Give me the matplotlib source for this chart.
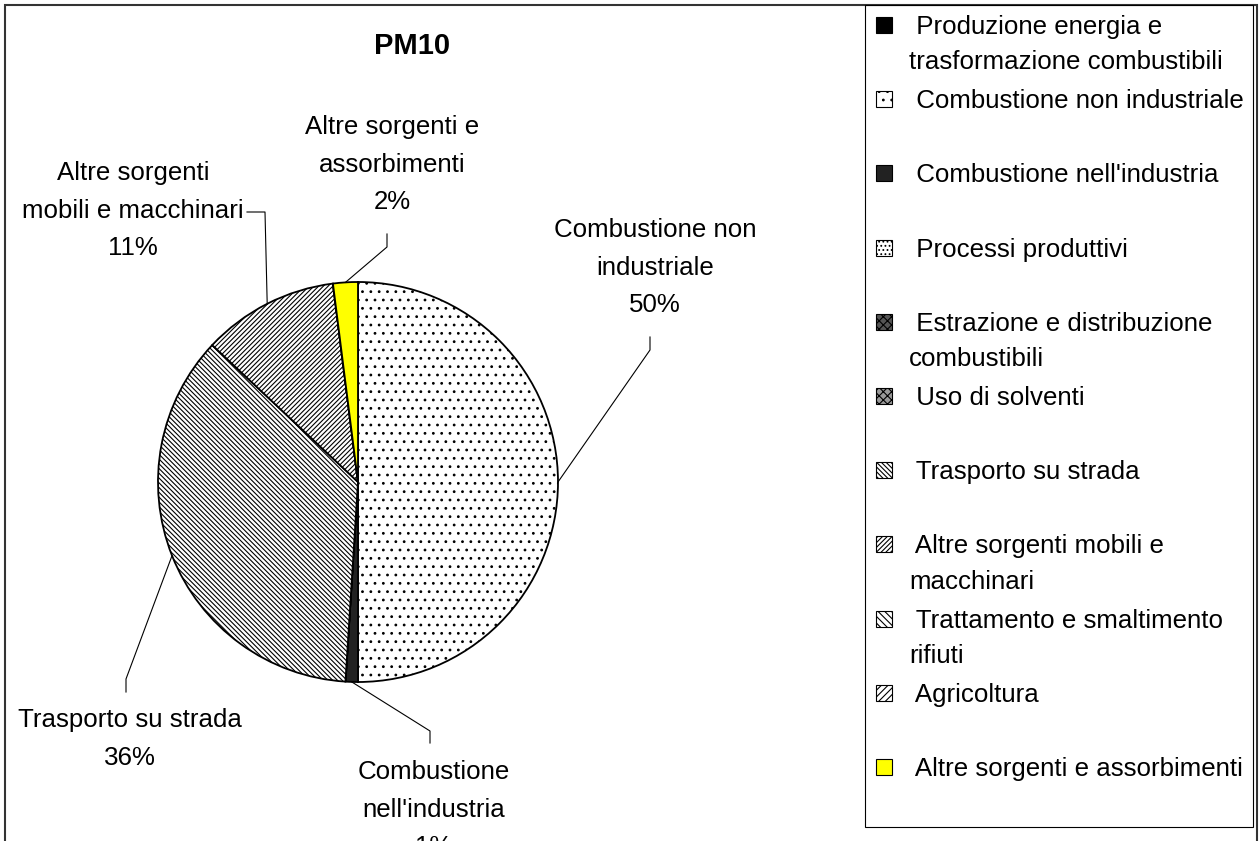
import numpy as np
import matplotlib.pyplot as plt
from matplotlib.patches import Rectangle

plt.rcParams['font.family'] = ['Liberation Sans', 'DejaVu Sans']
plt.rcParams['hatch.linewidth'] = 0.8

W, H = 1260, 841

# PM10 emission sources, share in percent
sources = ['Produzione energia e\ntrasformazione combustibili',
           'Combustione non industriale',
           "Combustione nell'industria",
           'Processi produttivi',
           'Estrazione e distribuzione\ncombustibili',
           'Uso di solventi',
           'Trasporto su strada',
           'Altre sorgenti mobili e\nmacchinari',
           'Trattamento e smaltimento\nrifiuti',
           'Agricoltura',
           'Altre sorgenti e assorbimenti']
shares = [0, 50, 1, 0, 0, 0, 36, 11, 0, 0, 2]

# text of the labels next to the pie (only non-zero slices)
slice_names = {1: 'Combustione non\nindustriale',
               2: "Combustione\nnell'industria",
               6: 'Trasporto su strada',
               7: 'Altre sorgenti\nmobili e macchinari',
               10: 'Altre sorgenti e\nassorbimenti'}

# fills, one per source
faces = ['black', 'white', '#222222', 'white', '#555555', '#999999',
         'white', 'white', 'white', 'white', '#FFFF00']
hatches = [None, '..', None, '....', 'xxxx', 'xxxx',
           '\\' * 7, '/' * 7, '\\' * 5, '/' * 5, None]

# label layout in image pixels: first line centre, leader elbow, leader end
label_pos = {1: ((655, 228), (650, 350), (650, 337)),
             2: ((434, 770), (430, 731), (430, 743)),
             6: ((130, 718), (126, 679), (126, 692)),
             7: ((133, 171), (265, 212), (247, 212)),
             10: ((392, 125), (387, 247), (387, 234))}

fig = plt.figure(figsize=(W / 100, H / 100), dpi=100)
ax = fig.add_axes([0, 0, 1, 1])

cx, cy, r = 358, H - 482, 200
wedges, _ = ax.pie(shares, startangle=90, counterclock=False,
                   center=(cx, cy), radius=r,
                   wedgeprops=dict(edgecolor='black', linewidth=1.3))
for w, fc, h in zip(wedges, faces, hatches):
    w.set_facecolor(fc)
    if h:
        w.set_hatch(h)

ax.set_xlim(0, W)
ax.set_ylim(0, H)
ax.axis('off')

# labels with leader lines
for i, name in slice_names.items():
    w = wedges[i]
    mid = np.deg2rad((w.theta1 + w.theta2) / 2)
    ex, ey = cx + r * np.cos(mid), cy + r * np.sin(mid)
    (tx, ty), (bx, by), (fx, fy) = label_pos[i]
    ax.plot([ex, bx, fx], [ey, H - by, H - fy], color='black', lw=0.8)
    ax.text(tx, H - ty + 10, f'{name}\n{shares[i]}%', ha='center',
            va='top', multialignment='center', fontsize=18.6,
            linespacing=1.72)

ax.text(412, H - 46, 'PM10', ha='center', va='center', fontsize=21,
        fontweight='bold')

# outer frame and legend box
ax.add_patch(Rectangle((5, -10), 1252, H - 5 + 10, fill=False,
                       edgecolor='#333333', lw=1.5))
ax.add_patch(Rectangle((865, H - 827), 388, 822, fill=False,
                       edgecolor='black', lw=0.8))

# legend entries
for i, name in enumerate(sources):
    yc = H - (25 + 74.2 * i)
    ax.add_patch(Rectangle((876, yc - 8), 16, 16, facecolor=faces[i],
                           hatch=hatches[i], edgecolor='black', lw=0.8))
    ax.text(909, yc + 10, ' ' + name, ha='left', va='top',
            fontsize=18.6, linespacing=1.6)

fig.savefig('out.png', dpi=100)
